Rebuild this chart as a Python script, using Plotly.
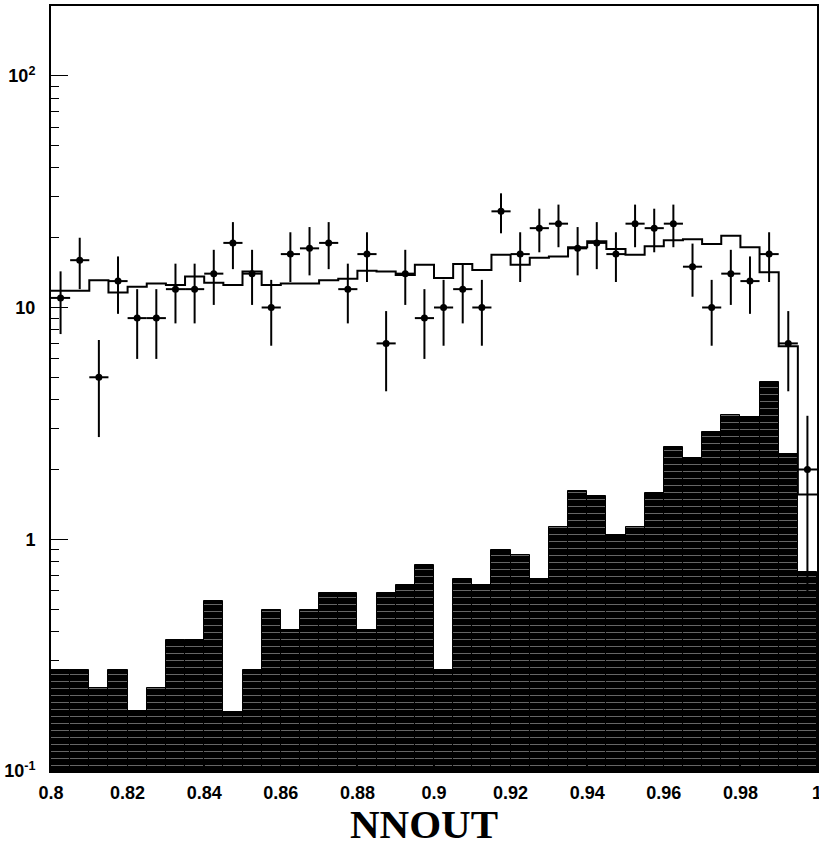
import plotly.graph_objects as go

# ---- data ----
bin_lo = 0.8
bin_w = 0.005
n_bins = 40

data_counts = [11, 16, 5, 13, 9, 9, 12, 12, 14, 19, 14, 10, 17, 18, 19, 12, 17, 7, 14, 9,
               10, 12, 10, 26, 17, 22, 23, 18, 19, 17, 23, 22, 23, 15, 10, 14, 13, 17, 7, 2]
data_err = [3.32, 4.00, 2.24, 3.61, 3.00, 3.00, 3.46, 3.46, 3.74, 4.36, 3.74, 3.16, 4.12, 4.24,
            4.36, 3.46, 4.12, 2.65, 3.74, 3.00, 3.16, 3.46, 3.16, 5.10, 4.12, 4.69, 4.80, 4.24,
            4.36, 4.12, 4.80, 4.69, 4.80, 3.87, 3.16, 3.74, 3.61, 4.12, 2.65, 1.41]

mc_total = [11.8, 11.8, 13.1, 11.6, 12.3, 12.7, 12.5, 13.6, 12.8, 12.5, 14.3, 12.5, 12.7, 12.7,
            13.1, 13.3, 14.4, 14.3, 13.8, 15.3, 13.4, 15.4, 14.5, 16.9, 15.3, 16.4, 16.6, 18.2,
            19.3, 17.9, 16.9, 18.4, 19.5, 19.7, 18.8, 20.4, 18.2, 14.2, 6.8, 1.56]

signal = [0.273, 0.273, 0.2275, 0.273, 0.182, 0.2275, 0.366, 0.366, 0.542, 0.18, 0.273, 0.495,
          0.405, 0.495, 0.589, 0.589, 0.405, 0.589, 0.633, 0.772, 0.273, 0.672, 0.635, 0.899,
          0.859, 0.672, 1.13, 1.617, 1.538, 1.04, 1.13, 1.58, 2.50, 2.24, 2.89, 3.44, 3.38,
          4.79, 2.33, 0.723]

x_ticks = [0.8, 0.82, 0.84, 0.86, 0.88, 0.9, 0.92, 0.94, 0.96, 0.98, 1.0]
x_tick_text = ["0.8", "0.82", "0.84", "0.86", "0.88", "0.9", "0.92", "0.94", "0.96", "0.98", "1"]
y_ticks = [0.1, 1, 10, 100]
y_tick_text = ["10<sup>-1</sup>", "1", "10", "10<sup>2</sup>"]
y_minor = [0.2, 0.3, 0.4, 0.5, 0.6, 0.7, 0.8, 0.9, 2, 3, 4, 5, 6, 7, 8, 9,
           20, 30, 40, 50, 60, 70, 80, 90, 200]

centers = [bin_lo + bin_w * (i + 0.5) for i in range(n_bins)]
edges = [bin_lo + bin_w * i for i in range(n_bins + 1)]

fig = go.Figure()

# filled (hatched) histogram
fig.add_trace(go.Bar(
    x=centers, y=signal, width=bin_w,
    marker=dict(color="black",
                line=dict(color="black", width=1),
                pattern=dict(shape="-", fgcolor="#d0d0d0", bgcolor="black",
                             size=7, solidity=0.14, fillmode="overlay")),
    showlegend=False, hoverinfo="skip",
))

# step histogram
fig.add_trace(go.Scatter(
    x=edges, y=mc_total + [mc_total[-1]],
    mode="lines", line=dict(color="black", width=2, shape="hv"),
    showlegend=False, hoverinfo="skip",
))

# data points
fig.add_trace(go.Scatter(
    x=centers, y=data_counts, mode="markers",
    marker=dict(color="black", size=7, symbol="circle"),
    error_y=dict(type="data", array=data_err, color="black", thickness=2, width=0),
    error_x=dict(type="constant", value=bin_w / 2, color="black", thickness=2, width=0),
    showlegend=False,
))

tick_font = dict(family="Liberation Sans", size=18, color="black", weight="bold")

fig.update_layout(
    width=819, height=847,
    margin=dict(l=51, r=2, t=6, b=76),
    paper_bgcolor="white", plot_bgcolor="white",
    bargap=0,
    xaxis=dict(range=[0.8, 1.0000001], tickvals=x_ticks, ticktext=x_tick_text,
               ticks="inside", ticklen=12, tickwidth=1, tickcolor="black",
               showline=True, linewidth=2, linecolor="black", mirror=True,
               showgrid=False, zeroline=False, tickfont=tick_font,
               ticklabelstandoff=4, ticklabeloverflow="allow", automargin=False),
    yaxis=dict(type="log", range=[-1, 2.301], tickvals=y_ticks, ticktext=y_tick_text,
               ticks="inside", ticklen=17, tickwidth=1, tickcolor="black",
               minor=dict(tickvals=y_minor, ticks="inside", ticklen=8,
                          tickcolor="black", tickwidth=1, showgrid=False),
               showline=True, linewidth=2, linecolor="black", mirror=True,
               showgrid=False, zeroline=False, tickfont=tick_font,
               ticklabelstandoff=10, automargin=False),
    annotations=[dict(text="<b>NNOUT</b>", xref="paper", yref="paper",
                      x=0.487, y=-0.069, xanchor="center", yanchor="middle",
                      showarrow=False,
                      font=dict(family="Liberation Serif", size=41, color="black"))],
)

fig.write_html("out.html", config={"displayModeBar": False},
               post_script="document.body.style.margin='0px';"
                           "document.body.style.overflow='hidden';"
                           "document.documentElement.style.overflow='hidden';")
